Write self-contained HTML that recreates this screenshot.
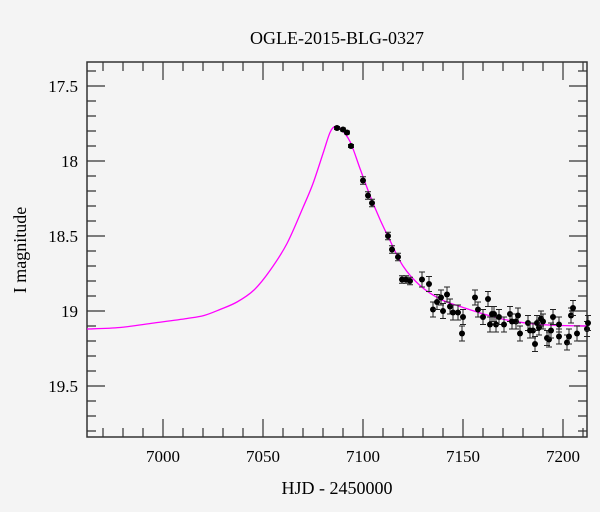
<!DOCTYPE html>
<html><head><meta charset="utf-8"><style>
body{margin:0;background:#f4f4f4}
svg{display:block;font-family:"Liberation Serif",serif}
</style></head><body>
<svg id="chart" width="600" height="512" viewBox="0 0 600 512">
<rect width="600" height="512" fill="#f4f4f4"/>
<text x="337" y="44" font-size="18" text-anchor="middle" fill="#000">OGLE-2015-BLG-0327</text>
<text x="337" y="494" font-size="18" text-anchor="middle" fill="#000">HJD - 2450000</text>
<text transform="translate(26,250) rotate(-90)" font-size="18" text-anchor="middle" fill="#000">I magnitude</text>
<g id="axes"></g>
<g id="model"></g>
<g id="points"></g>
</svg>
<script>
const modelT=[6962,6978.5,6995.5,7012,7020.5,7028.5,7037,7045.5,7053.5,7062,7070,7075,7080,7083.5,7086,7088.5,7093.5,7098.5,7103.5,7108.5,7113.5,7120,7128.5,7138.5,7148.5,7168.5,7188.5,7212];
const modelMag=[19.12,19.11,19.08,19.05,19.03,18.99,18.94,18.86,18.73,18.55,18.31,18.15,17.95,17.81,17.77,17.78,17.87,18.05,18.23,18.39,18.53,18.70,18.83,18.92,18.97,19.05,19.09,19.10];
const obsT=[7087,7090,7092,7094,7100,7102.5,7104.5,7112.5,7114.5,7117.5,7119.5,7121.5,7123.5,7129.5,7133,7135,7137,7139,7142,7140,7143.5,7145,7147.5,7150,7149.5,7156,7157.5,7160,7162.5,7163.5,7164.5,7165.5,7166.5,7168,7170.5,7173.5,7174.5,7176.5,7177.5,7178.5,7182.5,7183.5,7185,7186,7187,7188,7189,7190,7192,7193,7194,7195,7198,7198,7202,7203,7204,7205,7207,7212,7212.5];
const obsMag=[17.78,17.79,17.81,17.90,18.13,18.23,18.28,18.50,18.59,18.64,18.79,18.79,18.80,18.79,18.82,18.99,18.94,18.91,18.89,19.00,18.97,19.01,19.01,19.04,19.15,18.91,18.99,19.04,18.92,19.09,19.02,19.02,19.09,19.04,19.09,19.02,19.07,19.07,19.03,19.15,19.08,19.13,19.13,19.22,19.08,19.11,19.05,19.07,19.18,19.19,19.13,19.04,19.09,19.17,19.21,19.17,19.03,18.98,19.15,19.12,19.08];
const obsErr=obsT.map(t=>t<7098?0.01:(t<7125?0.025:0.05));
const xTicks=[7000,7050,7100,7150,7200];
const yTicks=[17.5,18,18.5,19,19.5];

const L=87,R=587,T=62,B=437;
const X=t=>163+(t-7000)*2;
const Y=m=>161+(m-18)*150;
const NS='http://www.w3.org/2000/svg';
function mk(tag,attrs,parent){const e=document.createElementNS(NS,tag);for(const k in attrs)e.setAttribute(k,attrs[k]);parent.appendChild(e);return e;}
const axes=document.getElementById('axes');
const frame=mk('rect',{x:L,y:T,width:R-L,height:B-T,fill:'none',stroke:'#333','stroke-width':1.5},axes);


let d='';
for(let t=6970;t<=7210;t+=10){const x=X(t);if(x<L||x>R)continue;const len=(t%50===0)?18:9;d+=`M${x},${B}v${-len}M${x},${T}v${len}`;}
for(let m=17.4;m<=19.81;m+=0.1){const y=Y(m);if(y<T||y>B)continue;const maj=Math.abs(m*2-Math.round(m*2))<1e-6;const len=maj?18:9;d+=`M${L},${y}h${len}M${R},${y}h${-len}`;}
const tk=mk('path',{d:d,stroke:'#333','stroke-width':1.2,fill:'none'},axes);


xTicks.forEach(t=>{const e=mk('text',{x:X(t),y:462,'font-size':17,'text-anchor':'middle'},axes);e.textContent=t;

});
yTicks.forEach(m=>{const e=mk('text',{x:78,y:Y(m)+6,'font-size':17,'text-anchor':'end'},axes);e.textContent=m;

});
const P=modelT.map((t,i)=>[X(t),Y(modelMag[i])]);
let pd=`M${P[0][0]},${P[0][1]}`;
for(let i=0;i<P.length-1;i++){const p0=P[Math.max(0,i-1)],p1=P[i],p2=P[i+1],p3=P[Math.min(P.length-1,i+2)];
pd+=`C${p1[0]+(p2[0]-p0[0])/6},${p1[1]+(p2[1]-p0[1])/6} ${p2[0]-(p3[0]-p1[0])/6},${p2[1]-(p3[1]-p1[1])/6} ${p2[0]},${p2[1]}`;}
const ml=mk('path',{d:pd,stroke:'#ff00ff','stroke-width':1.3,fill:'none'},document.getElementById('model'));


const pts=document.getElementById('points');
obsT.forEach((t,i)=>{const x=X(t),y=Y(obsMag[i]),e=obsErr[i]*150;
const g=mk('g',{},pts);


mk('path',{d:`M${x},${y-e}V${y+e}M${x-3},${y-e}h6M${x-3},${y+e}h6`,stroke:'#222','stroke-width':1},g);
mk('circle',{cx:x,cy:y,r:3,fill:'#000'},g);});
</script>
</body></html>
